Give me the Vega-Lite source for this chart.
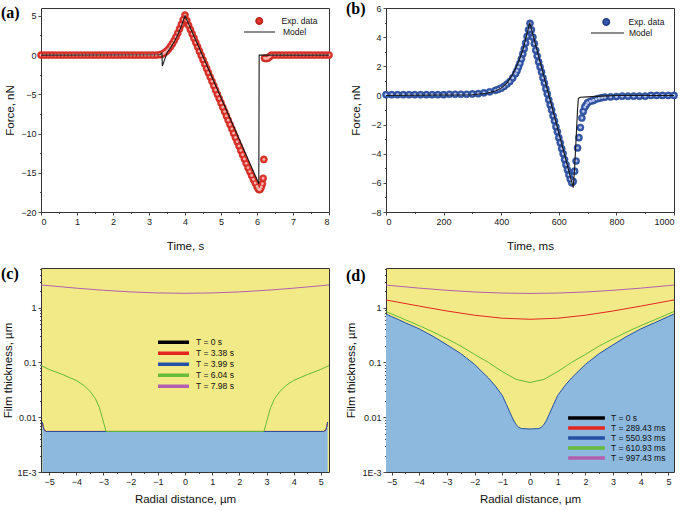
{
"$schema": "https://vega.github.io/schema/vega-lite/v6.json",
"padding": {"left": 0, "top": 0, "right": 2, "bottom": 2},
"config": {
  "font": "Liberation Sans",
  "view": {"stroke": "#333333", "strokeWidth": 1},
  "axis": {"grid": false, "domain": false, "tickColor": "#333333", "tickWidth": 0.9, "tickSize": 3, "labelFontSize": 9, "labelColor": "#1a1a1a", "labelPadding": 2, "titleFontSize": 11.5, "titleFontWeight": "normal", "titleColor": "#111111"},
  "legend": {"labelFontSize": 8.5, "labelColor": "#111111", "padding": 0, "rowPadding": 0, "title": null},
  "title": {"font": "Liberation Serif", "fontSize": 16, "fontWeight": "bold", "color": "#000000"}
},
"datasets": {
  "a_exp": [
    {"t":0,"f":0},{"t":0.1,"f":0},{"t":0.2,"f":0},{"t":0.3,"f":0},{"t":0.4,"f":0},{"t":0.5,"f":0},{"t":0.6,"f":0},{"t":0.7,"f":0},{"t":0.8,"f":0},{"t":0.9,"f":0},
    {"t":1.0,"f":0},{"t":1.1,"f":0},{"t":1.2,"f":0},{"t":1.3,"f":0},{"t":1.4,"f":0},{"t":1.5,"f":0},{"t":1.6,"f":0},{"t":1.7,"f":0},{"t":1.8,"f":0},{"t":1.9,"f":0},
    {"t":2.0,"f":0},{"t":2.1,"f":0},{"t":2.2,"f":0},{"t":2.3,"f":0},{"t":2.4,"f":0},{"t":2.5,"f":0},{"t":2.6,"f":0},{"t":2.7,"f":0},{"t":2.8,"f":0},{"t":2.9,"f":0},
    {"t":3.0,"f":0},{"t":3.1,"f":0},{"t":3.2,"f":0},{"t":3.3,"f":0.05},{"t":3.35,"f":0.1},{"t":3.4,"f":0.2},{"t":3.45,"f":0.35},{"t":3.5,"f":0.55},{"t":3.55,"f":0.8},{"t":3.6,"f":1.1},
    {"t":3.65,"f":1.45},{"t":3.7,"f":1.85},{"t":3.75,"f":2.3},{"t":3.8,"f":2.8},{"t":3.85,"f":3.35},{"t":3.9,"f":3.9},{"t":3.95,"f":4.5},{"t":4.0,"f":5.1},
    {"t":4.05,"f":4.4},{"t":4.1,"f":3.8},{"t":4.15,"f":3.25},{"t":4.2,"f":2.7},{"t":4.25,"f":2.15},{"t":4.3,"f":1.6},{"t":4.35,"f":1.05},{"t":4.4,"f":0.5},{"t":4.45,"f":-0.05},{"t":4.5,"f":-0.6},
    {"t":4.55,"f":-1.15},{"t":4.6,"f":-1.7},{"t":4.65,"f":-2.25},{"t":4.7,"f":-2.8},{"t":4.75,"f":-3.35},{"t":4.8,"f":-3.9},{"t":4.85,"f":-4.45},{"t":4.9,"f":-5.0},{"t":4.95,"f":-5.55},{"t":5.0,"f":-6.1},
    {"t":5.05,"f":-6.65},{"t":5.1,"f":-7.2},{"t":5.15,"f":-7.75},{"t":5.2,"f":-8.3},{"t":5.25,"f":-8.85},{"t":5.3,"f":-9.4},{"t":5.35,"f":-9.95},{"t":5.4,"f":-10.5},{"t":5.45,"f":-11.05},{"t":5.5,"f":-11.6},
    {"t":5.55,"f":-12.15},{"t":5.6,"f":-12.7},{"t":5.65,"f":-13.25},{"t":5.7,"f":-13.8},{"t":5.75,"f":-14.35},{"t":5.8,"f":-14.85},{"t":5.85,"f":-15.35},{"t":5.9,"f":-15.85},{"t":5.95,"f":-16.3},{"t":6.0,"f":-16.75},
    {"t":6.03,"f":-17.0},{"t":6.06,"f":-17.15},{"t":6.09,"f":-17.1},{"t":6.12,"f":-16.8},{"t":6.15,"f":-16.4},{"t":6.17,"f":-15.7},{"t":6.19,"f":-13.3},{"t":6.21,"f":-0.4},{"t":6.25,"f":-0.45},{"t":6.3,"f":-0.4},
    {"t":6.35,"f":-0.2},{"t":6.4,"f":0},{"t":6.5,"f":0},{"t":6.6,"f":0},{"t":6.7,"f":0},{"t":6.8,"f":0},{"t":6.9,"f":0},{"t":7.0,"f":0},{"t":7.1,"f":0},{"t":7.2,"f":0},
    {"t":7.3,"f":0},{"t":7.4,"f":0},{"t":7.5,"f":0},{"t":7.6,"f":0},{"t":7.7,"f":0},{"t":7.8,"f":0},{"t":7.9,"f":0},{"t":8.0,"f":0}
  ],
  "a_model": [
    {"t":0,"f":0},{"t":3.3,"f":0.05},{"t":3.36,"f":0.25},{"t":3.37,"f":-1.4},{"t":3.5,"f":0.3},{"t":3.6,"f":0.95},{"t":3.7,"f":1.7},{"t":3.8,"f":2.6},{"t":3.9,"f":3.7},{"t":4.0,"f":5.0},
    {"t":6.05,"f":-16.4},{"t":6.06,"f":0},{"t":8.0,"f":0}
  ],
  "b_exp": [
    {"t":0,"f":0.05},{"t":20,"f":0.05},{"t":40,"f":0.05},{"t":60,"f":0.05},{"t":80,"f":0.05},{"t":100,"f":0.05},{"t":120,"f":0.05},{"t":140,"f":0.05},{"t":160,"f":0.05},{"t":180,"f":0.05},
    {"t":200,"f":0.05},{"t":220,"f":0.08},{"t":240,"f":0.08},{"t":260,"f":0.08},{"t":280,"f":0.08},{"t":300,"f":0.1},{"t":320,"f":0.12},{"t":340,"f":0.18},{"t":360,"f":0.25},{"t":380,"f":0.35},
    {"t":390,"f":0.42},{"t":400,"f":0.5},{"t":410,"f":0.62},{"t":420,"f":0.78},{"t":430,"f":0.95},{"t":440,"f":1.2},{"t":450,"f":1.5},{"t":455,"f":1.7},{"t":460,"f":1.95},{"t":465,"f":2.2},
    {"t":470,"f":2.5},{"t":475,"f":2.85},{"t":480,"f":3.2},{"t":485,"f":3.6},{"t":490,"f":4.05},{"t":495,"f":4.5},{"t":500,"f":4.95},{"t":505,"f":4.5},{"t":510,"f":4.0},{"t":515,"f":3.55},
    {"t":520,"f":3.1},{"t":525,"f":2.7},{"t":530,"f":2.3},{"t":535,"f":1.95},{"t":540,"f":1.6},{"t":545,"f":1.2},{"t":550,"f":0.85},{"t":555,"f":0.45},{"t":560,"f":0.1},{"t":565,"f":-0.3},
    {"t":570,"f":-0.65},{"t":575,"f":-1.0},{"t":580,"f":-1.4},{"t":585,"f":-1.75},{"t":590,"f":-2.15},{"t":595,"f":-2.5},{"t":600,"f":-2.9},{"t":605,"f":-3.25},{"t":610,"f":-3.65},{"t":615,"f":-4.0},
    {"t":620,"f":-4.4},{"t":625,"f":-4.75},{"t":630,"f":-5.1},{"t":635,"f":-5.45},{"t":640,"f":-5.75},{"t":645,"f":-6.0},{"t":650,"f":-5.9},{"t":655,"f":-5.2},{"t":660,"f":-4.5},{"t":665,"f":-3.6},
    {"t":670,"f":-2.9},{"t":675,"f":-2.2},{"t":680,"f":-1.55},{"t":685,"f":-1.1},{"t":690,"f":-0.8},{"t":695,"f":-0.65},{"t":700,"f":-0.5},{"t":710,"f":-0.4},{"t":720,"f":-0.35},{"t":730,"f":-0.25},
    {"t":740,"f":-0.2},{"t":750,"f":-0.15},{"t":760,"f":-0.12},{"t":780,"f":-0.1},{"t":800,"f":-0.08},{"t":820,"f":-0.05},{"t":840,"f":-0.05},{"t":860,"f":-0.05},{"t":880,"f":-0.05},{"t":900,"f":-0.05},
    {"t":920,"f":0},{"t":940,"f":0},{"t":960,"f":0},{"t":980,"f":0},{"t":1000,"f":0}
  ],
  "b_model": [
    {"t":0,"f":0},{"t":300,"f":0.05},{"t":350,"f":0.15},{"t":380,"f":0.3},{"t":400,"f":0.5},{"t":420,"f":0.85},{"t":440,"f":1.45},{"t":460,"f":2.3},{"t":475,"f":3.1},{"t":485,"f":3.9},
    {"t":492,"f":4.4},{"t":499,"f":5.0},{"t":650,"f":-6.33},{"t":655,"f":-5.0},{"t":660,"f":-3.0},{"t":665,"f":-1.0},{"t":668,"f":-0.2},{"t":675,"f":-0.12},{"t":700,"f":-0.1},{"t":750,"f":-0.05},
    {"t":800,"f":0},{"t":1000,"f":0}
  ],
  "c_area": [
    {"r":-5.25,"h":0.0082},{"r":-5.22,"h":0.0068},{"r":-5.18,"h":0.0058},{"r":-5.1,"h":0.0055},{"r":5.1,"h":0.0055},{"r":5.18,"h":0.0058},{"r":5.22,"h":0.0068},{"r":5.25,"h":0.0082}
  ],
  "c_lines": [
    {"T":"T = 3.38 s","r":-5.25,"h":0.0082},{"T":"T = 3.38 s","r":-5.22,"h":0.0068},{"T":"T = 3.38 s","r":-5.18,"h":0.0058},{"T":"T = 3.38 s","r":-5.1,"h":0.0055},{"T":"T = 3.38 s","r":5.1,"h":0.0055},{"T":"T = 3.38 s","r":5.18,"h":0.0058},{"T":"T = 3.38 s","r":5.22,"h":0.0068},{"T":"T = 3.38 s","r":5.25,"h":0.0082},
    {"T":"T = 3.99 s","r":-5.25,"h":0.0082},{"T":"T = 3.99 s","r":-5.22,"h":0.0068},{"T":"T = 3.99 s","r":-5.18,"h":0.0058},{"T":"T = 3.99 s","r":-5.1,"h":0.0055},{"T":"T = 3.99 s","r":5.1,"h":0.0055},{"T":"T = 3.99 s","r":5.18,"h":0.0058},{"T":"T = 3.99 s","r":5.22,"h":0.0068},{"T":"T = 3.99 s","r":5.25,"h":0.0082},
    {"T":"T = 6.04 s","r":-5.3,"h":0.088},{"T":"T = 6.04 s","r":-5.0,"h":0.0745},{"T":"T = 6.04 s","r":-4.5,"h":0.06},{"T":"T = 6.04 s","r":-4.0,"h":0.047},{"T":"T = 6.04 s","r":-3.75,"h":0.039},{"T":"T = 6.04 s","r":-3.5,"h":0.03},{"T":"T = 6.04 s","r":-3.3,"h":0.022},{"T":"T = 6.04 s","r":-3.15,"h":0.015},{"T":"T = 6.04 s","r":-3.05,"h":0.01},{"T":"T = 6.04 s","r":-2.98,"h":0.0075},{"T":"T = 6.04 s","r":-2.92,"h":0.0058},{"T":"T = 6.04 s","r":-2.9,"h":0.0055},
    {"T":"T = 6.04 s","r":2.9,"h":0.0055},{"T":"T = 6.04 s","r":2.92,"h":0.0058},{"T":"T = 6.04 s","r":2.98,"h":0.0075},{"T":"T = 6.04 s","r":3.05,"h":0.01},{"T":"T = 6.04 s","r":3.15,"h":0.015},{"T":"T = 6.04 s","r":3.3,"h":0.022},{"T":"T = 6.04 s","r":3.5,"h":0.03},{"T":"T = 6.04 s","r":3.75,"h":0.039},{"T":"T = 6.04 s","r":4.0,"h":0.047},{"T":"T = 6.04 s","r":4.5,"h":0.06},{"T":"T = 6.04 s","r":5.0,"h":0.0745},{"T":"T = 6.04 s","r":5.3,"h":0.088},
    {"T":"T = 7.98 s","r":-5.3,"h":2.6},{"T":"T = 7.98 s","r":-5,"h":2.518},{"T":"T = 7.98 s","r":-4,"h":2.27},{"T":"T = 7.98 s","r":-3,"h":2.078},{"T":"T = 7.98 s","r":-2,"h":1.94},{"T":"T = 7.98 s","r":-1,"h":1.858},{"T":"T = 7.98 s","r":0,"h":1.83},
    {"T":"T = 7.98 s","r":1,"h":1.858},{"T":"T = 7.98 s","r":2,"h":1.94},{"T":"T = 7.98 s","r":3,"h":2.078},{"T":"T = 7.98 s","r":4,"h":2.27},{"T":"T = 7.98 s","r":5,"h":2.518},{"T":"T = 7.98 s","r":5.3,"h":2.6}
  ],
  "d_area": [
    {"r":-5.2,"h":0.765},{"r":-5,"h":0.69},{"r":-4.5,"h":0.53},{"r":-4,"h":0.41},{"r":-3.5,"h":0.3},{"r":-3,"h":0.21},{"r":-2.5,"h":0.145},{"r":-2,"h":0.092},{"r":-1.5,"h":0.052},{"r":-1.25,"h":0.037},
    {"r":-1,"h":0.025},{"r":-0.85,"h":0.017},{"r":-0.7,"h":0.0115},{"r":-0.6,"h":0.0089},{"r":-0.5,"h":0.0073},{"r":-0.4,"h":0.0065},{"r":-0.3,"h":0.0062},{"r":0,"h":0.0061},
    {"r":0.3,"h":0.0062},{"r":0.4,"h":0.0065},{"r":0.5,"h":0.0073},{"r":0.6,"h":0.0089},{"r":0.7,"h":0.0115},{"r":0.85,"h":0.017},{"r":1,"h":0.025},{"r":1.25,"h":0.037},{"r":1.5,"h":0.052},{"r":2,"h":0.092},
    {"r":2.5,"h":0.145},{"r":3,"h":0.21},{"r":3.5,"h":0.3},{"r":4,"h":0.41},{"r":4.5,"h":0.53},{"r":5,"h":0.69},{"r":5.2,"h":0.765}
  ],
  "d_lines": [
    {"T":"T = 289.43 ms","r":-5.2,"h":1.382},{"T":"T = 289.43 ms","r":-5,"h":1.324},{"T":"T = 289.43 ms","r":-4,"h":1.068},{"T":"T = 289.43 ms","r":-3,"h":0.87},{"T":"T = 289.43 ms","r":-2,"h":0.728},{"T":"T = 289.43 ms","r":-1,"h":0.642},{"T":"T = 289.43 ms","r":0,"h":0.614},
    {"T":"T = 289.43 ms","r":1,"h":0.642},{"T":"T = 289.43 ms","r":2,"h":0.728},{"T":"T = 289.43 ms","r":3,"h":0.87},{"T":"T = 289.43 ms","r":4,"h":1.068},{"T":"T = 289.43 ms","r":5,"h":1.324},{"T":"T = 289.43 ms","r":5.2,"h":1.382},
    {"T":"T = 550.93 ms","r":-5.2,"h":0.765},{"T":"T = 550.93 ms","r":-5,"h":0.69},{"T":"T = 550.93 ms","r":-4.5,"h":0.53},{"T":"T = 550.93 ms","r":-4,"h":0.41},{"T":"T = 550.93 ms","r":-3.5,"h":0.3},{"T":"T = 550.93 ms","r":-3,"h":0.21},{"T":"T = 550.93 ms","r":-2.5,"h":0.145},{"T":"T = 550.93 ms","r":-2,"h":0.092},{"T":"T = 550.93 ms","r":-1.5,"h":0.052},{"T":"T = 550.93 ms","r":-1.25,"h":0.037},
    {"T":"T = 550.93 ms","r":-1,"h":0.025},{"T":"T = 550.93 ms","r":-0.85,"h":0.017},{"T":"T = 550.93 ms","r":-0.7,"h":0.0115},{"T":"T = 550.93 ms","r":-0.6,"h":0.0089},{"T":"T = 550.93 ms","r":-0.5,"h":0.0073},{"T":"T = 550.93 ms","r":-0.4,"h":0.0065},{"T":"T = 550.93 ms","r":-0.3,"h":0.0062},{"T":"T = 550.93 ms","r":0,"h":0.0061},
    {"T":"T = 550.93 ms","r":0.3,"h":0.0062},{"T":"T = 550.93 ms","r":0.4,"h":0.0065},{"T":"T = 550.93 ms","r":0.5,"h":0.0073},{"T":"T = 550.93 ms","r":0.6,"h":0.0089},{"T":"T = 550.93 ms","r":0.7,"h":0.0115},{"T":"T = 550.93 ms","r":0.85,"h":0.017},{"T":"T = 550.93 ms","r":1,"h":0.025},{"T":"T = 550.93 ms","r":1.25,"h":0.037},{"T":"T = 550.93 ms","r":1.5,"h":0.052},{"T":"T = 550.93 ms","r":2,"h":0.092},
    {"T":"T = 550.93 ms","r":2.5,"h":0.145},{"T":"T = 550.93 ms","r":3,"h":0.21},{"T":"T = 550.93 ms","r":3.5,"h":0.3},{"T":"T = 550.93 ms","r":4,"h":0.41},{"T":"T = 550.93 ms","r":4.5,"h":0.53},{"T":"T = 550.93 ms","r":5,"h":0.69},{"T":"T = 550.93 ms","r":5.2,"h":0.765},
    {"T":"T = 610.93 ms","r":-5.2,"h":0.85},{"T":"T = 610.93 ms","r":-5,"h":0.77},{"T":"T = 610.93 ms","r":-4.5,"h":0.6},{"T":"T = 610.93 ms","r":-4,"h":0.47},{"T":"T = 610.93 ms","r":-3.5,"h":0.36},{"T":"T = 610.93 ms","r":-3,"h":0.27},{"T":"T = 610.93 ms","r":-2.5,"h":0.2},{"T":"T = 610.93 ms","r":-2,"h":0.14},{"T":"T = 610.93 ms","r":-1.5,"h":0.1},{"T":"T = 610.93 ms","r":-1,"h":0.068},{"T":"T = 610.93 ms","r":-0.5,"h":0.049},{"T":"T = 610.93 ms","r":0,"h":0.043},
    {"T":"T = 610.93 ms","r":0.5,"h":0.049},{"T":"T = 610.93 ms","r":1,"h":0.068},{"T":"T = 610.93 ms","r":1.5,"h":0.1},{"T":"T = 610.93 ms","r":2,"h":0.14},{"T":"T = 610.93 ms","r":2.5,"h":0.2},{"T":"T = 610.93 ms","r":3,"h":0.27},{"T":"T = 610.93 ms","r":3.5,"h":0.36},{"T":"T = 610.93 ms","r":4,"h":0.47},{"T":"T = 610.93 ms","r":4.5,"h":0.6},{"T":"T = 610.93 ms","r":5,"h":0.77},{"T":"T = 610.93 ms","r":5.2,"h":0.85},
    {"T":"T = 997.43 ms","r":-5.2,"h":2.588},{"T":"T = 997.43 ms","r":-5,"h":2.53},{"T":"T = 997.43 ms","r":-4,"h":2.274},{"T":"T = 997.43 ms","r":-3,"h":2.076},{"T":"T = 997.43 ms","r":-2,"h":1.934},{"T":"T = 997.43 ms","r":-1,"h":1.848},{"T":"T = 997.43 ms","r":0,"h":1.82},
    {"T":"T = 997.43 ms","r":1,"h":1.848},{"T":"T = 997.43 ms","r":2,"h":1.934},{"T":"T = 997.43 ms","r":3,"h":2.076},{"T":"T = 997.43 ms","r":4,"h":2.274},{"T":"T = 997.43 ms","r":5,"h":2.53},{"T":"T = 997.43 ms","r":5.2,"h":2.588}
  ]
},
"columns": 2,
"spacing": {"row": 56, "column": 57},
"bounds": "flush",
"resolve": {"scale": {"fill": "independent", "stroke": "independent"}},
"concat": [
      {
        "width": 288, "height": 204,
        "title": {"text": "(a)", "anchor": "start", "frame": "group", "dx": -40, "dy": 19, "offset": -2, "baseline": "middle"},
        "resolve": {"axis": {"x": "independent", "y": "independent"}},
        "layer": [
          {"data": {"name": "a_exp"}, "mark": {"type": "point", "filled": true, "size": 52, "opacity": 1, "stroke": "#b3241b", "strokeWidth": 0.4},
           "encoding": {
             "x": {"field": "t", "type": "quantitative", "scale": {"domain": [0, 8], "nice": false, "zero": false}, "axis": {"orient": "bottom", "values": [0,1,2,3,4,5,6,7,8], "title": "Time, s", "titlePadding": 14}},
             "y": {"field": "f", "type": "quantitative", "scale": {"domain": [-20, 6], "nice": false, "zero": false}, "axis": {"orient": "left", "values": [-20,-15,-10,-5,0,5], "title": "Force, nN", "titlePadding": 5}},
             "fill": {"datum": "Exp. data", "scale": {"range": ["#e0322a"]}, "legend": {"orient": "none", "legendX": 214, "legendY": 8, "symbolType": "circle", "symbolSize": 42, "labelOffset": 18, "clipHeight": 10}}
           }},
          {"data": {"name": "a_exp"}, "mark": {"type": "point", "filled": true, "size": 8, "color": "#f7c0b8", "opacity": 0.9},
           "encoding": {"x": {"field": "t", "type": "quantitative", "axis": null}, "y": {"field": "f", "type": "quantitative", "axis": null}}},
          {"data": {"name": "a_model"}, "mark": {"type": "line", "strokeWidth": 1.1},
           "encoding": {
             "x": {"field": "t", "type": "quantitative", "axis": null},
             "y": {"field": "f", "type": "quantitative", "axis": null},
             "stroke": {"datum": "Model", "scale": {"range": ["#1a1a1a"]}, "legend": {"orient": "none", "legendX": 202, "legendY": 19, "symbolType": "stroke", "symbolSize": 961, "symbolStrokeWidth": 1.2, "labelOffset": 7, "clipHeight": 10}}
           }},
          {"data": {"name": "a_exp"}, "mark": {"type": "point", "opacity": 0},
           "encoding": {
             "x": {"field": "t", "type": "quantitative", "axis": {"orient": "bottom", "values": [0.5,1.5,2.5,3.5,4.5,5.5,6.5,7.5], "labels": false, "title": null, "tickSize": 1.5}},
             "y": {"field": "f", "type": "quantitative", "axis": {"orient": "left", "values": [-17.5,-12.5,-7.5,-2.5,2.5], "labels": false, "title": null, "tickSize": 1.5}}
           }}
        ]
      },
      {
        "width": 288, "height": 204,
        "title": {"text": "(b)", "anchor": "start", "frame": "group", "dx": -40, "dy": 19, "offset": -2, "baseline": "middle"},
        "resolve": {"axis": {"x": "independent", "y": "independent"}},
        "layer": [
          {"data": {"name": "b_exp"}, "mark": {"type": "point", "filled": true, "size": 52, "opacity": 1, "stroke": "#223f85", "strokeWidth": 0.4},
           "encoding": {
             "x": {"field": "t", "type": "quantitative", "scale": {"domain": [0, 1000], "nice": false, "zero": false}, "axis": {"orient": "bottom", "values": [0,200,400,600,800,1000], "format": "d", "title": "Time, ms", "titlePadding": 14}},
             "y": {"field": "f", "type": "quantitative", "scale": {"domain": [-8, 6], "nice": false, "zero": false}, "axis": {"orient": "left", "values": [-8,-6,-4,-2,0,2,4,6], "title": "Force, nN", "titlePadding": 9}},
             "fill": {"datum": "Exp. data", "scale": {"range": ["#3457a8"]}, "legend": {"orient": "none", "legendX": 216, "legendY": 9, "symbolType": "circle", "symbolSize": 42, "labelOffset": 18, "clipHeight": 10}}
           }},
          {"data": {"name": "b_exp"}, "mark": {"type": "point", "filled": true, "size": 8, "color": "#c8d3ef", "opacity": 0.9},
           "encoding": {"x": {"field": "t", "type": "quantitative", "axis": null}, "y": {"field": "f", "type": "quantitative", "axis": null}}},
          {"data": {"name": "b_model"}, "mark": {"type": "line", "strokeWidth": 1.1},
           "encoding": {
             "x": {"field": "t", "type": "quantitative", "axis": null},
             "y": {"field": "f", "type": "quantitative", "axis": null},
             "stroke": {"datum": "Model", "scale": {"range": ["#1a1a1a"]}, "legend": {"orient": "none", "legendX": 204, "legendY": 20, "symbolType": "stroke", "symbolSize": 1089, "symbolStrokeWidth": 1.2, "labelOffset": 4, "clipHeight": 10}}
           }},
          {"data": {"name": "b_exp"}, "mark": {"type": "point", "opacity": 0},
           "encoding": {
             "x": {"field": "t", "type": "quantitative", "axis": {"orient": "bottom", "values": [100,300,500,700,900], "labels": false, "title": null, "tickSize": 1.5}},
             "y": {"field": "f", "type": "quantitative", "axis": {"orient": "left", "values": [-7,-5,-3,-1,1,3,5], "labels": false, "title": null, "tickSize": 1.5}}
           }}
        ]
      },
      {
        "width": 288, "height": 204,
        "view": {"fill": "#f2ea87"},
        "title": {"text": "(c)", "anchor": "start", "frame": "group", "dx": -40, "dy": 15, "offset": -7, "baseline": "middle"},
        "resolve": {"axis": {"x": "independent", "y": "independent"}},
        "layer": [
          {"data": {"name": "c_area"}, "mark": {"type": "area", "color": "#8db9de", "opacity": 1, "clip": true},
           "encoding": {
             "x": {"field": "r", "type": "quantitative", "scale": {"domain": [-5.3, 5.3], "nice": false, "zero": false}, "axis": {"orient": "bottom", "values": [-5,-4,-3,-2,-1,0,1,2,3,4,5], "title": "Radial distance, µm", "titlePadding": 7}},
             "y": {"field": "h", "type": "quantitative", "scale": {"type": "log", "domain": [0.001, 5.3], "nice": false}, "axis": {"orient": "left", "values": [0.001,0.01,0.1,1], "labelExpr": "datum.value < 0.002 ? '1E-3' : datum.value < 0.02 ? '0.01' : datum.value < 0.2 ? '0.1' : '1'", "title": "Film thickness, µm", "titlePadding": 3}},
             "y2": {"datum": 0.001}
           }},
          {"data": {"name": "c_lines"}, "mark": {"type": "line", "strokeWidth": 1, "clip": true},
           "encoding": {
             "x": {"field": "r", "type": "quantitative", "axis": null},
             "y": {"field": "h", "type": "quantitative", "axis": null},
             "stroke": {"field": "T", "type": "nominal", "scale": {"domain": ["T = 0 s","T = 3.38 s","T = 3.99 s","T = 6.04 s","T = 7.98 s"], "range": ["#000000","#e3261f","#2451a4","#66bb3a","#b25fb0"]},
               "legend": {"orient": "none", "legendX": 115, "legendY": 69, "symbolType": "stroke", "symbolSize": 961, "symbolStrokeWidth": 3.5, "labelOffset": 5, "clipHeight": 10.3}}
           }},
          {"data": {"name": "c_area"}, "mark": {"type": "point", "opacity": 0},
           "encoding": {
             "x": {"field": "r", "type": "quantitative", "axis": {"orient": "bottom", "values": [-4.5,-3.5,-2.5,-1.5,-0.5,0.5,1.5,2.5,3.5,4.5], "labels": false, "title": null, "tickSize": 1.5}},
             "y": {"field": "h", "type": "quantitative", "axis": {"orient": "left", "values": [0.002,0.003,0.004,0.005,0.006,0.007,0.008,0.009,0.02,0.03,0.04,0.05,0.06,0.07,0.08,0.09,0.2,0.3,0.4,0.5,0.6,0.7,0.8,0.9,2,3,4,5], "labels": false, "title": null, "tickSize": 1.5}}
           }}
        ]
      },
      {
        "width": 288, "height": 204,
        "view": {"fill": "#f2ea87"},
        "title": {"text": "(d)", "anchor": "start", "frame": "group", "dx": -40, "dy": 16, "offset": -8, "baseline": "middle"},
        "resolve": {"axis": {"x": "independent", "y": "independent"}},
        "layer": [
          {"data": {"name": "d_area"}, "mark": {"type": "area", "color": "#8db9de", "opacity": 1, "clip": true},
           "encoding": {
             "x": {"field": "r", "type": "quantitative", "scale": {"domain": [-5.2, 5.2], "nice": false, "zero": false}, "axis": {"orient": "bottom", "values": [-5,-4,-3,-2,-1,0,1,2,3,4,5], "title": "Radial distance, µm", "titlePadding": 7}},
             "y": {"field": "h", "type": "quantitative", "scale": {"type": "log", "domain": [0.001, 5.3], "nice": false}, "axis": {"orient": "left", "values": [0.001,0.01,0.1,1], "labelExpr": "datum.value < 0.002 ? '1E-3' : datum.value < 0.02 ? '0.01' : datum.value < 0.2 ? '0.1' : '1'", "title": "Film thickness, µm", "titlePadding": 5}},
             "y2": {"datum": 0.001}
           }},
          {"data": {"name": "d_lines"}, "mark": {"type": "line", "strokeWidth": 1, "clip": true},
           "encoding": {
             "x": {"field": "r", "type": "quantitative", "axis": null},
             "y": {"field": "h", "type": "quantitative", "axis": null},
             "stroke": {"field": "T", "type": "nominal", "scale": {"domain": ["T = 0 s","T = 289.43 ms","T = 550.93 ms","T = 610.93 ms","T = 997.43 ms"], "range": ["#000000","#e3261f","#2451a4","#66bb3a","#b25fb0"]},
               "legend": {"orient": "none", "legendX": 180, "legendY": 145, "symbolType": "stroke", "symbolSize": 1350, "symbolStrokeWidth": 3.5, "labelOffset": 4, "clipHeight": 10}}
           }},
          {"data": {"name": "d_area"}, "mark": {"type": "point", "opacity": 0},
           "encoding": {
             "x": {"field": "r", "type": "quantitative", "axis": {"orient": "bottom", "values": [-4.5,-3.5,-2.5,-1.5,-0.5,0.5,1.5,2.5,3.5,4.5], "labels": false, "title": null, "tickSize": 1.5}},
             "y": {"field": "h", "type": "quantitative", "axis": {"orient": "left", "values": [0.002,0.003,0.004,0.005,0.006,0.007,0.008,0.009,0.02,0.03,0.04,0.05,0.06,0.07,0.08,0.09,0.2,0.3,0.4,0.5,0.6,0.7,0.8,0.9,2,3,4,5], "labels": false, "title": null, "tickSize": 1.5}}
           }}
        ]
      }
]
}
